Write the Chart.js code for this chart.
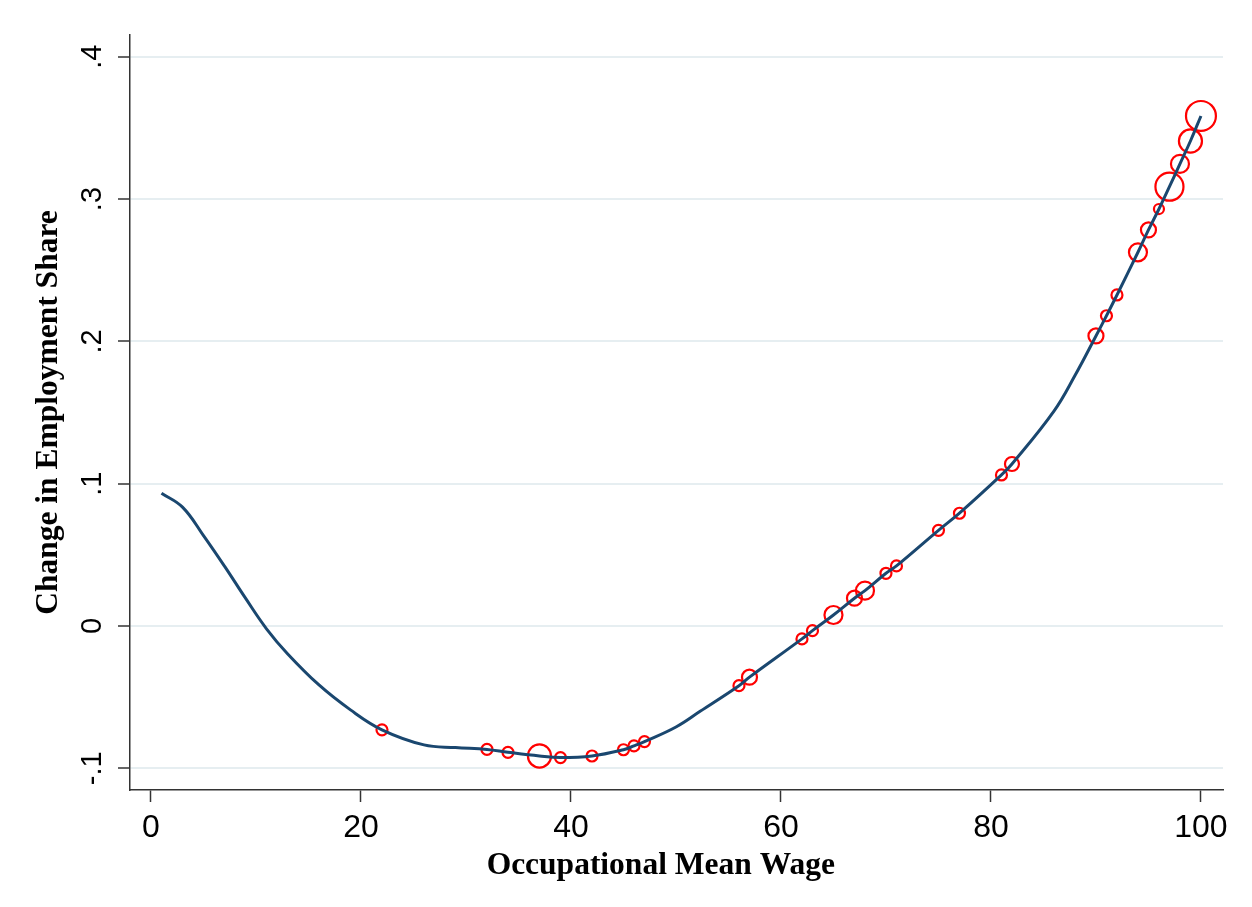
<!DOCTYPE html>
<html>
<head>
<meta charset="utf-8">
<script src="https://cdn.jsdelivr.net/npm/chart.js@4/dist/chart.umd.min.js"></script>
<style>
  html, body { margin: 0; padding: 0; background: #ffffff; }
  #wrap { width: 1252px; height: 907px; }
</style>
</head>
<body>
<div id="wrap"><canvas id="chart" width="1252" height="907"></canvas></div>
<script>
// fitted curve (occupational mean wage percentile -> change in employment share)
const fitX = [1, 3, 5, 7, 9, 11, 13, 16, 19, 22, 26, 29, 32, 34, 37, 39, 42, 45, 46, 47, 50, 52.3,
  56, 57, 62, 63, 65, 67, 68, 70, 71, 75, 77, 81, 82, 86, 88, 90, 91, 92, 94, 95, 96, 97, 98, 99, 100];
const fitY = [0.0933, 0.0835, 0.0635, 0.042, 0.0195, -0.002, -0.0195, -0.0415, -0.059, -0.073, -0.0836,
  -0.0855, -0.0868, -0.0888, -0.0914, -0.0925, -0.0914, -0.087, -0.0843, -0.0813, -0.071, -0.06,
  -0.042, -0.036, -0.0091, -0.0033, 0.0077, 0.0195, 0.0248, 0.037, 0.0422, 0.0672, 0.0792, 0.1061, 0.1138,
  0.151, 0.176, 0.2038, 0.218, 0.2326, 0.2626, 0.2783, 0.293, 0.3087, 0.3247, 0.3408, 0.3584];

// occupations (hollow circles, size = employment weight)
const occX = [22, 32, 34, 37, 39, 42, 45, 46, 47, 56, 57, 62, 63, 65, 67, 68, 70, 71, 75, 77, 81, 82,
  90, 91, 92, 94, 95, 96, 97, 98, 99, 100];
const occY = [-0.073, -0.0868, -0.0888, -0.0914, -0.0925, -0.0914, -0.087, -0.0843, -0.0813, -0.042, -0.036,
  -0.0091, -0.0033, 0.0077, 0.0195, 0.0248, 0.037, 0.0422, 0.0672, 0.0792, 0.1061, 0.1138,
  0.2038, 0.218, 0.2326, 0.2626, 0.2783, 0.293, 0.3087, 0.3247, 0.3408, 0.3584];
const occWeight = [1, 1, 1, 4.4, 1, 1, 1, 1, 1, 1, 1.86, 1, 1, 2.68, 1.86, 2.68, 1, 1, 1, 1, 1, 1.62,
  1.86, 1, 1, 2.68, 1.86, 0.83, 6.5, 2.68, 4.4, 7.4];

const xTicks = [0, 20, 40, 60, 80, 100];
const yTicks = [-0.1, 0, 0.1, 0.2, 0.3, 0.4];
const yTickLabels = ["-.1", "0", ".1", ".2", ".3", ".4"];

// trailing spaces nudge the centred title left, as in the original
const xTitle = "Occupational Mean Wage    ";
const yTitle = "Change in Employment Share";

const axisColor = "#333333";
const gridColor = "#e6eef1";
const titleFont = { family: "'Liberation Serif', 'Times New Roman', serif", size: 31.5, weight: "bold" };

const ctx = document.getElementById("chart").getContext("2d");

new Chart(ctx, {
  type: "scatter",
  data: {
    datasets: [
      {
        label: "fit",
        data: fitX.map((x, i) => ({ x: x, y: fitY[i] })),
        showLine: true,
        borderColor: "#1a476f",
        borderWidth: 3,
        pointRadius: 0,
        tension: 0.4,
        fill: false
      },
      {
        label: "occupations",
        data: occX.map((x, i) => ({ x: x, y: occY[i] })),
        pointStyle: "circle",
        pointRadius: occWeight.map(w => 5.5 * Math.sqrt(w)),
        borderColor: "#ff0000",
        backgroundColor: "rgba(0,0,0,0)",
        borderWidth: 2.2
      }
    ]
  },
  options: {
    responsive: false,
    animation: false,
    events: [],
    layout: { padding: { left: 0, right: 29, top: 35, bottom: 0 } },
    plugins: {
      legend: { display: false },
      tooltip: { enabled: false }
    },
    scales: {
      x: {
        type: "linear",
        min: -2,
        max: 102.1,
        afterBuildTicks: axis => { axis.ticks = xTicks.map(v => ({ value: v })); },
        afterFit: scale => { scale.height = 117; },
        border: { color: axisColor, width: 1.5 },
        grid: { drawOnChartArea: false, drawTicks: true, tickLength: 12, tickColor: axisColor, tickWidth: 1.5 },
        ticks: {
          autoSkip: false,
          maxRotation: 0,
          padding: 7,
          color: "#000000",
          font: { family: "'Liberation Sans', Arial, sans-serif", size: 32 }
        },
        title: {
          display: true,
          text: xTitle,
          color: "#000000",
          padding: { top: 0, bottom: 22 },
          font: titleFont
        }
      },
      y: {
        type: "linear",
        min: -0.1153,
        max: 0.4153,
        afterBuildTicks: axis => { axis.ticks = yTicks.map(v => ({ value: v })); },
        afterFit: scale => { scale.width = 130; },
        border: { color: axisColor, width: 1.5 },
        grid: { color: gridColor, lineWidth: 2, drawTicks: true, tickLength: 12, tickColor: axisColor, tickWidth: 1.5 },
        ticks: {
          autoSkip: false,
          minRotation: 90,
          maxRotation: 90,
          crossAlign: "center",
          padding: 8,
          color: "#000000",
          font: { family: "'Liberation Sans', Arial, sans-serif", size: 29 },
          callback: (value) => {
            const i = yTicks.findIndex(t => Math.abs(t - value) < 1e-9);
            return i >= 0 ? yTickLabels[i] : "";
          }
        },
        title: {
          display: true,
          text: yTitle,
          color: "#000000",
          padding: { top: 30, bottom: 0 },
          font: titleFont
        }
      }
    }
  }
});
</script>
</body>
</html>
